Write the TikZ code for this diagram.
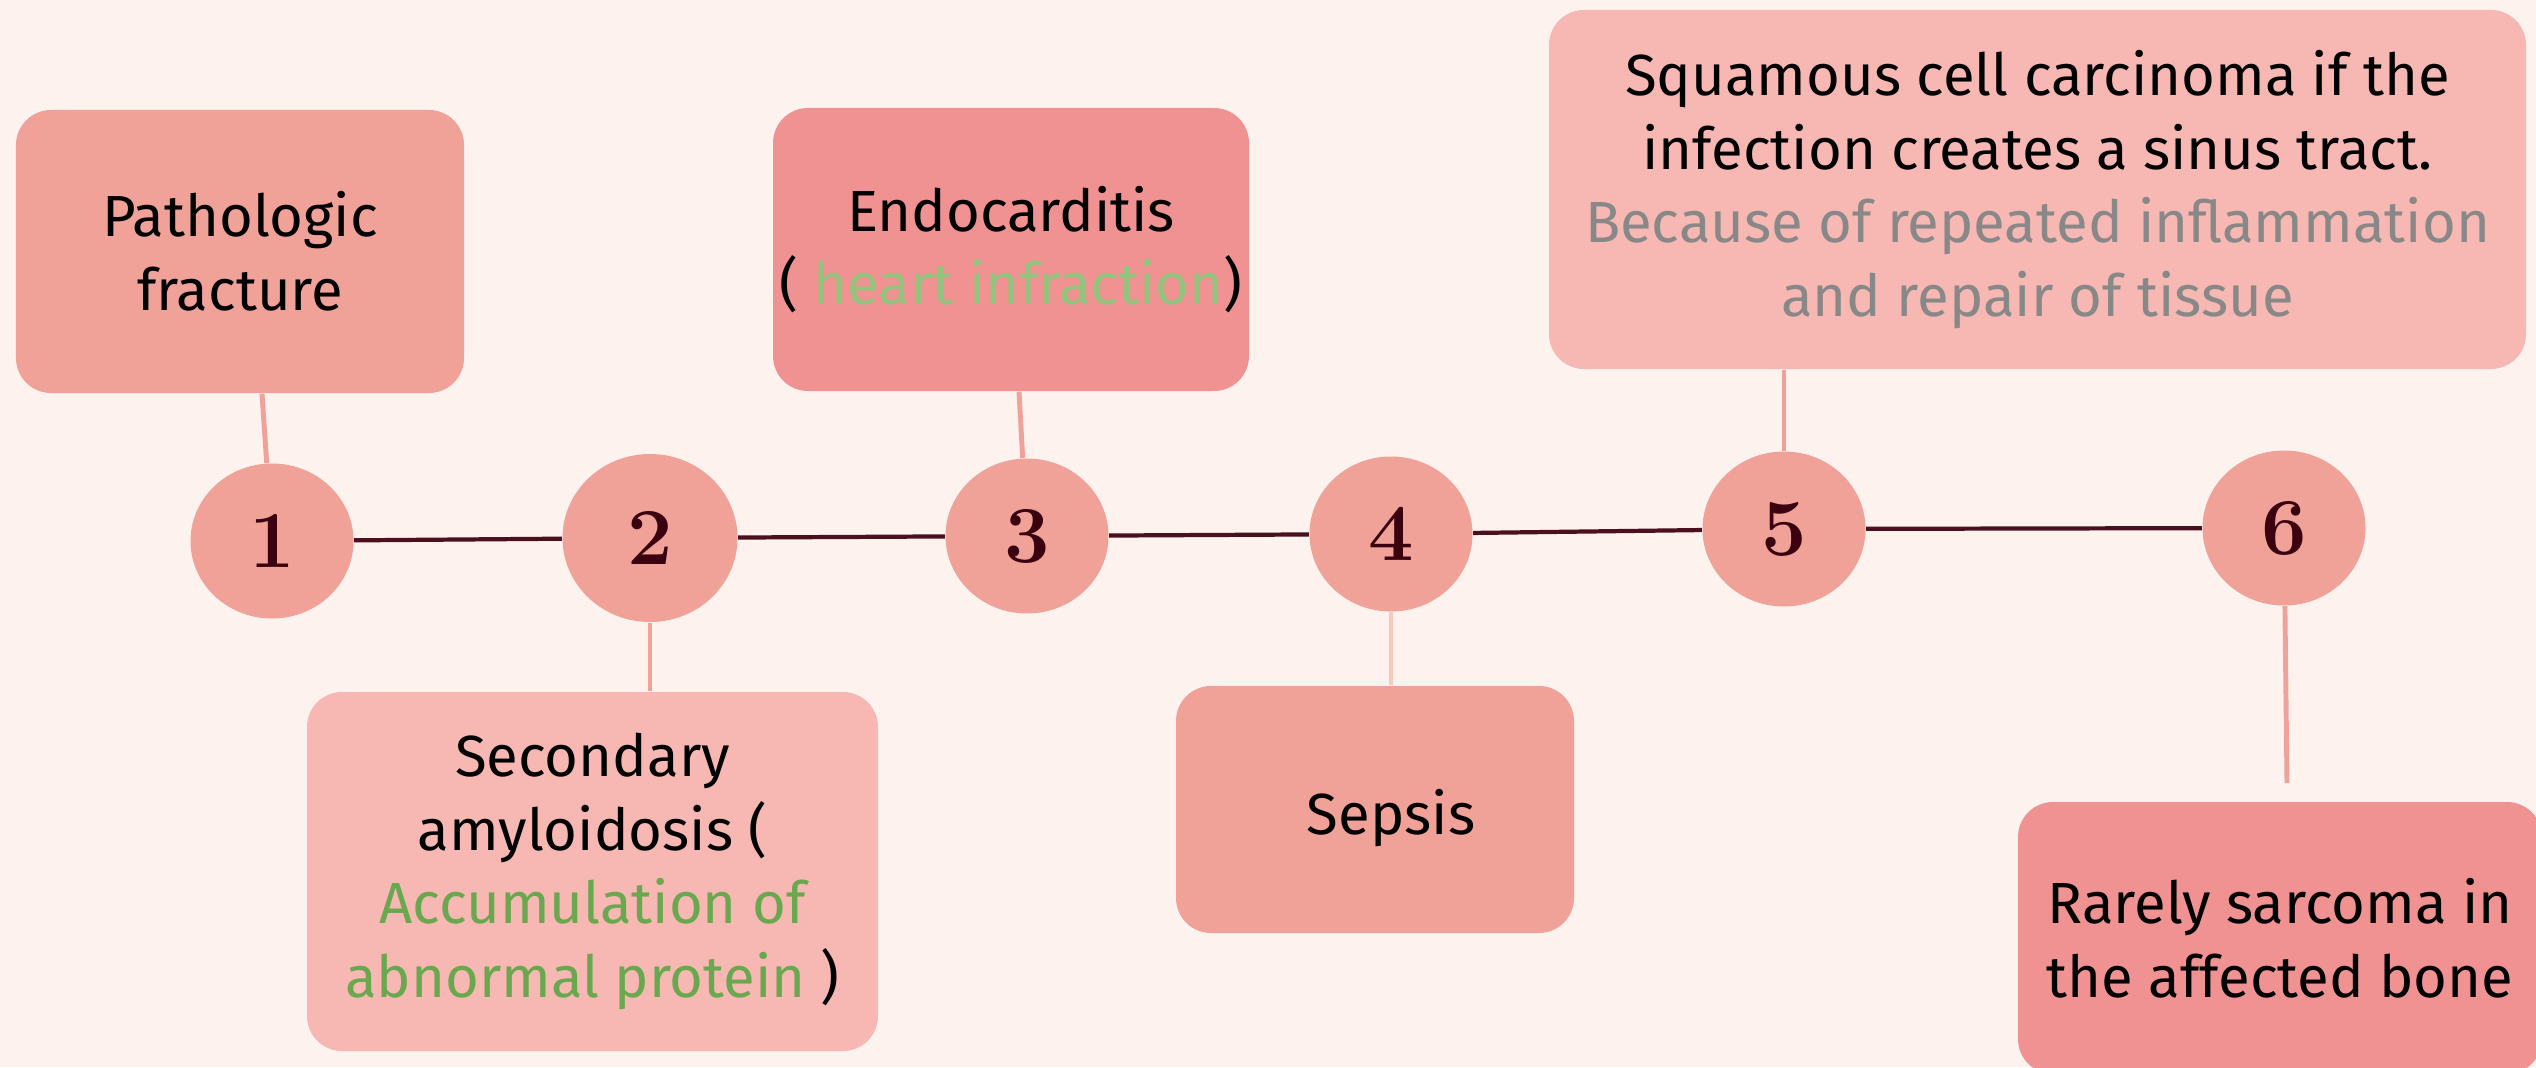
\documentclass[tikz,border=0pt]{standalone}
\usepackage{fontspec}
\usepackage{tikz}
\usetikzlibrary{shapes.geometric}
\usetikzlibrary{positioning}
\newfontfamily\boxfont{Fira Sans}
\definecolor{bg}{HTML}{FDF2EE}
\definecolor{salmon}{HTML}{F0A198}
\definecolor{blush}{HTML}{F7B7B2}
\definecolor{rose}{HTML}{F09192}
\definecolor{peach}{HTML}{FBC9BB}
\definecolor{maroon}{HTML}{4A1020}
\definecolor{numred}{HTML}{3A0010}
\definecolor{leaf}{HTML}{6AA84F}
\definecolor{paleleaf}{HTML}{93C47D}
\definecolor{note}{HTML}{888888}

\begin{document}
\begin{tikzpicture}[numdot/.style={ellipse,fill=salmon,minimum width=1.63cm,minimum height=1.55cm,inner sep=0pt,text=numred,font=\fontsize{23}{26}\selectfont\bfseries},
  card/.style={rounded corners=0.35cm,align=center,inner sep=0pt,font=\boxfont\fontsize{16.5}{21}\selectfont},
  link/.style={salmon,line width=1.4pt},
  timeline/.style={maroon,line width=1.2pt}]
\fill[bg] (0,0) rectangle (25.36,10.67);
\useasboundingbox (0,0) rectangle (25.36,10.67);
  % the stops on the line
  \node[numdot] (1) at (2.72,5.26) {1};
  \node[numdot,minimum width=1.75cm,minimum height=1.68cm] (2) at (6.50,5.29) {2};
  \node[numdot] (3) at (10.27,5.31) {3};
  \node[numdot] (4) at (13.91,5.33) {4};
  \node[numdot] (5) at (17.84,5.38) {5};
  \node[numdot] (6) at (22.84,5.39) {6};
  % the cards
  \node[card,fill=salmon,minimum width=4.48cm,minimum height=2.83cm] (t1) at (2.40,8.155) {Pathologic\\fracture};
  \node[card,fill=blush,minimum width=5.71cm,minimum height=3.59cm] (t2) at (5.925,1.955) {Secondary\\amyloidosis (\\\textcolor{leaf}{Accumulation of}\\\textcolor{leaf}{abnormal protein} )};
  \node[card,fill=rose,minimum width=4.76cm,minimum height=2.83cm] (t3) at (10.11,8.175) {Endocarditis\\( \textcolor{paleleaf}{heart infraction})};
  \node[card,fill=salmon,minimum width=3.98cm,minimum height=2.47cm] (t4) at (13.75,2.575) {\hspace*{0.32cm}\rule{0pt}{0.62cm}Sepsis};
  \node[card,fill=blush,minimum width=9.77cm,minimum height=3.59cm] (t5) at (20.375,8.775) {Squamous cell carcinoma if the\\infection creates a sinus tract.\\\textcolor{note}{Because of repeated inflammation}\\\textcolor{note}{and repair of tissue}};
  \node[card,fill=rose,minimum width=5.24cm,minimum height=2.72cm] (t6) at (22.80,1.29) {Rarely sarcoma in\\the affected bone};
\coordinate (e6) at (22.87,2.84);
  \draw[timeline](1)--(2)--(3)--(4)--(5)--(6);
  \draw[link]([xshift=-1mm]1 |- t1.south)--(1);
  \draw[link](2)--(2 |- t2.north);
  \draw[link]([xshift=-0.8mm]3 |- t3.south)--(3);
  \draw[link,peach](4)--(4 |- t4.north);
  \draw[link](t5.south -| 5)--(5);
  \draw[link](6)--(e6);
\end{tikzpicture}
\end{document}
